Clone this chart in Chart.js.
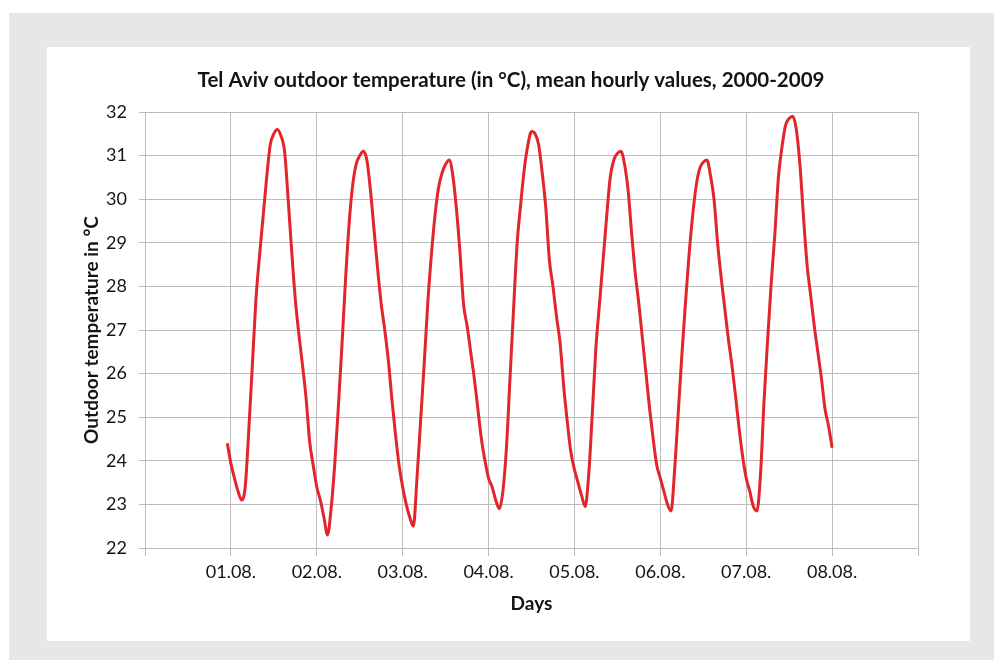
<!DOCTYPE html>
<html>
<head>
<meta charset="utf-8">
<script src="https://cdn.jsdelivr.net/npm/chart.js@4.4.1/dist/chart.umd.min.js"></script>
<style>
  html, body { margin: 0; padding: 0; background: #ffffff; }
  #outer { position: absolute; left: 9px; top: 13px; width: 985px; height: 647px; background: #e6e7e9; }
  #panel { position: absolute; left: 47px; top: 47px; width: 923px; height: 594px; background: #ffffff; }
  #wrap { position: absolute; left: 0; top: 0; width: 994px; height: 660px; }
</style>
</head>
<body>
<div id="outer"></div>
<div id="panel"></div>
<div id="wrap"><canvas id="c" width="994" height="660"></canvas></div>
<script>
// ---- data (°C, mean hourly values; index = hour of day 0..23) ----
const dayLabels = ['01.08.', '02.08.', '03.08.', '04.08.', '05.08.', '06.08.', '07.08.', '08.08.'];
const valueBeforeStart = 24.4;   // 31.07. 23:00
const day1 = [23.94, 23.6, 23.3, 23.1, 23.4, 24.7, 26.2, 27.7, 28.7, 29.6, 30.5, 31.25, 31.5, 31.6, 31.45, 31.1, 30.0, 28.8, 27.7, 26.9, 26.2, 25.45, 24.45, 23.9];
const day2 = [23.4, 23.1, 22.7, 22.3, 22.9, 23.9, 25.2, 26.6, 28.1, 29.4, 30.3, 30.8, 31.0, 31.1, 30.9, 30.2, 29.3, 28.4, 27.6, 27.0, 26.3, 25.4, 24.6, 23.9];
const day3 = [23.4, 23.0, 22.7, 22.5, 23.6, 24.9, 26.2, 27.6, 28.7, 29.6, 30.25, 30.6, 30.8, 30.9, 30.55, 29.8, 28.8, 27.6, 27.1, 26.5, 25.9, 25.2, 24.5, 24.0];
const day4 = [23.6, 23.4, 23.1, 22.9, 23.3, 24.3, 25.9, 27.5, 29.0, 29.9, 30.7, 31.25, 31.55, 31.5, 31.25, 30.6, 29.8, 28.6, 28.0, 27.3, 26.7, 25.7, 24.9, 24.2];
const day5 = [23.8, 23.5, 23.2, 22.95, 23.7, 25.1, 26.6, 27.6, 28.6, 29.6, 30.5, 30.9, 31.05, 31.1, 30.8, 30.2, 29.2, 28.3, 27.6, 26.8, 26.0, 25.2, 24.5, 23.9];
const day6 = [23.6, 23.3, 23.0, 22.85, 23.8, 25.1, 26.4, 27.6, 28.7, 29.6, 30.3, 30.7, 30.85, 30.9, 30.55, 30.0, 29.0, 28.2, 27.5, 26.8, 26.2, 25.5, 24.75, 24.1];
const day7 = [23.6, 23.3, 22.95, 22.85, 23.7, 25.4, 26.8, 28.1, 29.2, 30.5, 31.2, 31.7, 31.85, 31.9, 31.6, 30.8, 29.6, 28.5, 27.8, 27.1, 26.5, 25.9, 25.2, 24.8];
const valueAtEnd = 24.3;         // 08.08. 00:00
const yTicks = [22, 23, 24, 25, 26, 27, 28, 29, 30, 31, 32];

// ---- build points: x in days (1 = 01.08. 00:00) ----
const hourly = [valueBeforeStart].concat(day1, day2, day3, day4, day5, day6, day7, [valueAtEnd]);
const points = hourly.map((v, i) => ({ x: 1 + (i - 1) / 24, y: v }));

const FONT = "Lato, 'Open Sans', sans-serif";
const gridColor = '#bcbcbc';
const textColor = '#141414';

const titlePlugin = {
  id: 'fixedTitle',
  afterDraw(chart) {
    const ctx = chart.ctx;
    ctx.save();
    ctx.font = "bold 20.5px " + FONT;
    ctx.fillStyle = textColor;
    ctx.textAlign = 'center';
    ctx.textBaseline = 'middle';
    ctx.fillText('Tel Aviv outdoor temperature (in °C), mean hourly values, 2000-2009', 511, 80);
    ctx.restore();
  }
};

new Chart(document.getElementById('c'), {
  type: 'line',
  data: {
    datasets: [{
      data: points,
      borderColor: '#e2242b',
      borderWidth: 3,
      pointRadius: 0,
      cubicInterpolationMode: 'monotone',
      fill: false
    }]
  },
  options: {
    responsive: false,
    animation: false,
    events: [],
    layout: { padding: { top: 112, right: 76, bottom: 42, left: 0 } },
    plugins: { legend: { display: false }, tooltip: { enabled: false }, title: { display: false } },
    scales: {
      x: {
        type: 'linear',
        min: 0, max: 9,
        afterFit: s => { s.height = 70; },
        afterBuildTicks: s => { s.ticks = [0,1,2,3,4,5,6,7,8,9].map(v => ({ value: v })); },
        ticks: {
          autoSkip: false,
          maxRotation: 0,
          padding: 5,
          color: textColor,
          font: { family: FONT, size: 18 },
          callback: v => (v >= 1 && v <= 8) ? dayLabels[v - 1] : ''
        },
        grid: { color: gridColor, lineWidth: 1, tickLength: 8, drawTicks: true },
        border: { color: gridColor, width: 1 },
        title: { display: true, text: 'Days', color: textColor, font: { family: FONT, size: 19, weight: 'bold' }, padding: { top: 0, bottom: 3 } }
      },
      y: {
        type: 'linear',
        min: 22, max: 32,
        afterFit: s => { s.width = 145; },
        afterBuildTicks: s => { s.ticks = yTicks.map(v => ({ value: v })); },
        ticks: {
          padding: 12,
          color: textColor,
          font: { family: FONT, size: 18 }
        },
        grid: { color: gridColor, lineWidth: 1, tickLength: 6, drawTicks: true },
        border: { color: gridColor, width: 1 },
        title: { display: true, text: 'Outdoor temperature in °C', color: textColor, font: { family: FONT, size: 19, weight: 'bold' }, padding: { top: 80, bottom: 0 } }
      }
    }
  },
  plugins: [titlePlugin]
});
</script>
</body>
</html>
